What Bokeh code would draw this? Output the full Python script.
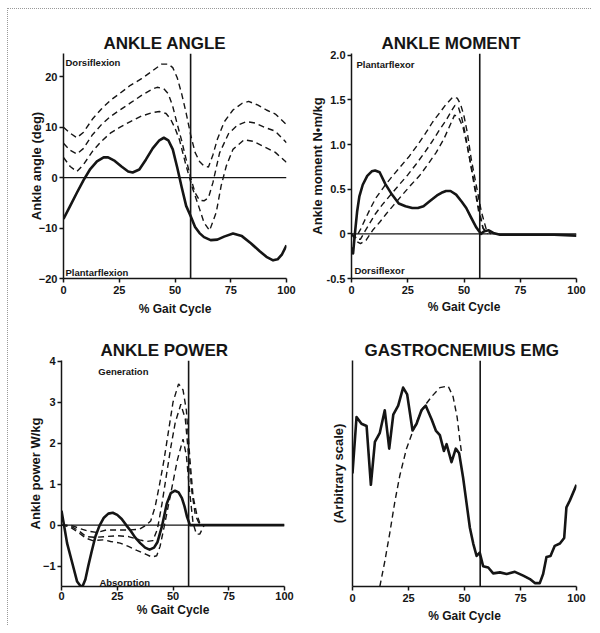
from bokeh.plotting import figure
from bokeh.models import Range1d, FixedTicker, Span, Title
from bokeh.layouts import row, column
from bokeh.core.properties import value
from bokeh.embed import file_html
from bokeh.resources import INLINE

FONT = "Liberation Sans"
INK = "#151515"

XTICKS = [0, 25, 50, 75, 100]
TOE_OFF = 57

# ---------------- ANKLE ANGLE ----------------
ANG_TICKS = [-20, -10, 0, 10, 20]
ang_x = [0, 3, 6, 9, 12, 15, 18, 20, 23, 26, 29, 31, 34, 37, 40, 43, 45, 47, 49, 51, 53,
         55, 57, 59, 61, 63, 66, 69, 72, 76, 80, 84, 88, 91, 94, 96, 98, 100]
ang_y = [-8.2, -5.6, -3.0, -0.5, 1.7, 3.2, 4.0, 4.0, 3.3, 2.2, 1.2, 1.0, 1.6, 3.6, 5.8, 7.4,
         7.9, 7.4, 5.6, 2.0, -1.9, -5.6, -7.6, -9.8, -11.0, -11.8, -12.4, -12.3, -11.7, -11.1,
         -11.6, -13.0, -14.6, -15.7, -16.4, -16.2, -15.2, -13.4]
ang_hi_x = [0, 3, 6, 9, 13, 17, 21, 25, 30, 35, 40, 44, 47, 49, 51, 53, 55, 57, 59, 61, 63,
            65, 67, 69, 72, 76, 80, 83, 87, 91, 95, 100]
ang_hi_y = [10.0, 8.8, 7.9, 9.0, 11.6, 13.6, 15.3, 16.6, 18.3, 19.6, 21.2, 22.5, 22.5, 21.8,
            19.8, 16.6, 12.8, 8.5, 5.0, 3.2, 2.3, 2.1, 4.5, 7.6, 11.0, 13.4, 14.7, 15.1, 14.4,
            13.4, 12.6, 10.5]
ang_mid_x = [0, 3, 6, 9, 13, 17, 21, 25, 30, 35, 40, 42, 45, 47, 49, 51, 53, 55, 57, 59, 61,
             63, 65, 67, 70, 74, 78, 82, 86, 90, 95, 100]
ang_mid_y = [6.8, 5.4, 4.7, 5.8, 8.5, 10.5, 12.1, 13.3, 14.8, 16.3, 17.6, 17.9, 17.6, 16.6,
             14.1, 10.6, 7.3, 3.6, 0.0, -3.0, -4.5, -4.6, -4.0, -1.0, 4.9, 8.7, 10.4, 11.1,
             10.8, 10.0, 9.2, 6.9]
ang_lo_x = [0, 3, 6, 9, 13, 17, 21, 25, 30, 35, 40, 43, 46, 48, 50, 52, 55, 58, 61, 63, 65.5,
            68.5, 70.7, 73, 76, 81, 85, 91, 95, 100]
ang_lo_y = [4.0, 2.2, 1.2, 2.6, 5.2, 7.2, 8.8, 9.9, 11.1, 12.2, 12.9, 13.1, 12.7, 11.6, 9.8,
            7.5, 2.3, -2.3, -6.2, -8.9, -10.5, -6.9, -1.6, 2.3, 5.6, 7.5, 7.2, 5.9, 5.0, 3.0]

# ---------------- ANKLE MOMENT ----------------
MOM_TICKS = [-0.5, 0, 0.5, 1.0, 1.5, 2.0]
MOM_LABELS = ["-0.5", "0", "0.5", "1.0", "1.5", "2.0"]
mom_x = [0, 0.7, 1.5, 2.5, 3.5, 5, 7, 9, 10.5, 12.5, 15, 18, 21, 24, 27, 29.5, 32, 35, 38,
         40, 42, 44, 46.5, 49, 51, 53, 55.5, 57.5, 59, 61, 63, 66, 70, 80, 90, 100]
mom_y = [-0.15, -0.22, 0.0, 0.25, 0.42, 0.55, 0.65, 0.70, 0.71, 0.69, 0.56, 0.44, 0.34, 0.31,
         0.29, 0.29, 0.31, 0.37, 0.43, 0.46, 0.48, 0.48, 0.44, 0.36, 0.29, 0.19, 0.07, 0.0,
         0.03, 0.04, 0.01, -0.01, -0.01, -0.01, -0.01, -0.02]
mom_hi_x = [0, 2, 4, 6.4, 8.5, 10.8, 14.5, 18.3, 22, 25.7, 29.5, 33, 36, 39, 42, 45, 47, 48.5,
            50, 51.5, 53.2, 55.4, 57.7, 60, 62]
mom_hi_y = [0.0, -0.04, 0.05, 0.18, 0.29, 0.40, 0.53, 0.65, 0.76, 0.87, 1.0, 1.13, 1.25, 1.35,
            1.45, 1.53, 1.52, 1.45, 1.32, 1.13, 0.84, 0.55, 0.25, 0.04, 0.0]
mom_mid_x = [0, 2, 4, 6, 7.9, 10.5, 13.8, 17.5, 21.2, 25, 28.7, 32.5, 36, 39, 42, 44.5, 46,
             47.5, 49, 50.5, 52.5, 54.5, 56.5, 58.5, 60.5]
mom_mid_y = [0.0, -0.06, -0.06, 0.03, 0.11, 0.22, 0.33, 0.44, 0.55, 0.66, 0.78, 0.91, 1.04,
             1.16, 1.27, 1.38, 1.44, 1.42, 1.30, 1.13, 0.84, 0.55, 0.25, 0.06, 0.0]
mom_lo_x = [0, 2, 4, 6.5, 9.4, 12.5, 15.3, 19, 22.7, 26.5, 30.2, 34, 37.6, 41, 43.5, 45.8,
            47.5, 49.5, 51.7, 54, 56, 58.4, 60.5]
mom_lo_y = [0.0, -0.08, -0.11, -0.07, 0.04, 0.13, 0.22, 0.33, 0.44, 0.55, 0.65, 0.78, 0.91,
            1.06, 1.20, 1.33, 1.31, 1.20, 0.95, 0.65, 0.36, 0.07, 0.0]

# ---------------- ANKLE POWER ----------------
POW_TICKS = [-1, 0, 1, 2, 3, 4]
pow_x = [0, 1, 2.5, 4.8, 7, 8.5, 9.5, 10.7, 12, 13.5, 15.2, 17, 19, 21, 23, 25, 27, 29, 31,
         33, 35.3, 37.5, 39.5, 41.5, 43, 45, 47.2, 49, 50.9, 52.5, 54, 55.2, 56.3, 57.6, 60,
         70, 80, 90, 100]
pow_y = [0.35, 0.04, -0.44, -0.92, -1.38, -1.49, -1.49, -1.33, -1.0, -0.65, -0.28, -0.02,
         0.18, 0.28, 0.30, 0.25, 0.15, 0.0, -0.14, -0.3, -0.44, -0.55, -0.6, -0.55, -0.42,
         -0.04, 0.52, 0.78, 0.84, 0.8, 0.66, 0.45, 0.2, 0.0, 0.0, 0.0, 0.0, 0.0, 0.0]
pow_hi_x = [0, 4, 8, 12, 16, 20, 25, 30, 35, 38, 40, 42, 44, 46, 48, 50, 52.5, 54.5, 56, 57.6,
            59, 60.6, 62, 64]
pow_hi_y = [0.0, 0.0, -0.08, -0.15, -0.18, -0.12, -0.12, -0.12, -0.1, 0.0, 0.1, 0.45, 1.0,
            1.6, 2.3, 3.0, 3.45, 3.3, 2.8, 1.6, 0.7, 0.28, 0.05, 0.0]
pow_mid_x = [0, 4, 8, 11, 15, 20, 25, 30, 35, 38, 41, 43, 45, 47, 49, 51, 53.5, 55.5, 57, 58.5,
             60, 62]
pow_mid_y = [0.0, -0.02, -0.15, -0.28, -0.3, -0.28, -0.26, -0.28, -0.36, -0.4, -0.38, -0.1,
             0.5, 1.2, 1.9, 2.5, 2.95, 2.6, 1.7, 0.8, 0.25, 0.0]
pow_lo_x = [0, 4, 8, 11, 14, 18.8, 22, 26.3, 30, 33.8, 38.2, 40.5, 42.7, 44.2, 46, 48, 50, 52,
            54.5, 56, 57.5, 59, 60.5, 62, 64]
pow_lo_y = [0.0, -0.05, -0.2, -0.32, -0.38, -0.36, -0.4, -0.44, -0.52, -0.62, -0.72, -0.78,
            -0.75, -0.52, -0.05, 0.5, 1.05, 1.6, 2.1, 1.7, 0.8, 0.05, -0.22, -0.22, 0.0]

# ---------------- GASTROCNEMIUS EMG ----------------
emg_x = [0, 1.8, 4, 6.3, 8.2, 10, 12.2, 14.4, 16.4, 18.2, 20.4, 22.6, 24.4, 26.8, 28.6, 30.8,
         32.7, 35.3, 37.2, 39, 40.8, 42, 44.2, 46.1, 47.6, 49.4, 50.9, 52.4, 53.9, 55.4, 56.8,
         58.3, 60.6, 62.8, 65.8, 68.8, 72.5, 76.2, 79.2, 81.4, 83.6, 85.1, 86.6, 88.4, 90.3,
         92.6, 94.5, 95.5, 97, 100]
emg_y = [0.5, 0.75, 0.72, 0.71, 0.45, 0.64, 0.68, 0.78, 0.61, 0.76, 0.8, 0.88, 0.85, 0.69,
         0.72, 0.78, 0.8, 0.74, 0.69, 0.67, 0.6, 0.63, 0.55, 0.61, 0.59, 0.48, 0.37, 0.26, 0.19,
         0.135, 0.15, 0.09, 0.084, 0.058, 0.0625, 0.055, 0.065, 0.048, 0.033, 0.015, 0.015,
         0.055, 0.13, 0.135, 0.18, 0.19, 0.215, 0.35, 0.38, 0.45]
emg_norm_x = [12.2, 14.4, 16.7, 18.9, 21.1, 24.1, 27.8, 31.5, 35.3, 39, 42.7, 44.9, 46.7,
              47.9, 48.7]
emg_norm_y = [0.0, 0.11, 0.24, 0.375, 0.49, 0.61, 0.71, 0.79, 0.84, 0.88, 0.887, 0.84, 0.75,
              0.65, 0.59]


def make_panel(title, title_offset, y_range, width, height, borders, yticks, ylabel,
               ylabel_standoff, xlabel_standoff, xtick_standoff, ylabels=None):
    left, right, top, bottom = borders
    p = figure(width=width, height=height, x_range=Range1d(0, 100),
               y_range=Range1d(*y_range), output_backend="svg", toolbar_location=None,
               min_border_left=left, min_border_right=right, min_border_top=top,
               min_border_bottom=bottom)
    p.title = Title(text=title, align="left", offset=title_offset, text_font=FONT,
                    text_font_size="17px", text_font_style="bold", text_color=INK,
                    standoff=2)
    p.outline_line_color = None
    p.grid.visible = False
    p.background_fill_color = "white"
    p.border_fill_color = "white"
    for ax in (p.xaxis[0], p.yaxis[0]):
        ax.axis_line_width = 1.5
        ax.axis_line_color = INK
        ax.major_tick_line_width = 1.5
        ax.major_tick_line_color = INK
        ax.major_tick_in = 0
        ax.major_tick_out = 4
        ax.minor_tick_line_color = None
        ax.major_label_text_font = FONT
        ax.major_label_text_font_size = "11px"
        ax.major_label_text_font_style = "bold"
        ax.major_label_text_color = INK
        ax.axis_label_text_font = FONT
        ax.axis_label_text_font_size = "12px"
        ax.axis_label_text_font_style = "bold"
        ax.axis_label_text_color = INK
    p.yaxis.axis_label_text_font_size = "13px"
    p.xaxis.ticker = FixedTicker(ticks=XTICKS)
    p.xaxis.axis_label = "% Gait Cycle"
    p.xaxis.axis_label_standoff = xlabel_standoff
    p.xaxis.major_label_standoff = xtick_standoff
    p.yaxis.ticker = FixedTicker(ticks=yticks)
    p.yaxis.major_label_standoff = 2
    if not yticks:
        p.yaxis.major_tick_out = 0
    if ylabels is not None:
        p.yaxis.major_label_overrides = dict(zip(yticks, ylabels))
    p.yaxis.axis_label = ylabel
    p.yaxis.axis_label_standoff = ylabel_standoff
    p.add_layout(Span(location=TOE_OFF, dimension="height", line_color=INK, line_width=1.6))
    return p


def band(p, xs, ys):
    p.line(xs, ys, line_color=INK, line_width=1.4, line_dash="6 4")


def curve(p, xs, ys):
    p.line(xs, ys, line_color=INK, line_width=2.6, line_join="round")


def note(p, x, y, s, size="9.5px"):
    p.text(x=[x], y=[y], text=[s], text_font=value(FONT), text_font_style="bold",
           text_font_size=size, text_color=INK, text_baseline="middle", text_align="left")


zero = dict(location=0, dimension="width", line_color=INK, line_width=1.1)

# panel 1
p1 = make_panel("ANKLE ANGLE", 40, (-20, 24.6), 291, 309, (55, 13, 44, 38), ANG_TICKS,
                "Ankle angle (deg)", -8, 5, 3)
p1.add_layout(Span(**zero))
for xs, ys in ((ang_hi_x, ang_hi_y), (ang_mid_x, ang_mid_y), (ang_lo_x, ang_lo_y)):
    band(p1, xs, ys)
curve(p1, ang_x, ang_y)
note(p1, 0.9, 22.9, "Dorsiflexion")
note(p1, 0.9, -18.8, "Plantarflexion")

# panel 2
p2 = make_panel("ANKLE MOMENT", 30, (-0.5, 2.02), 292, 309, (52, 15, 44, 35), MOM_TICKS,
                "Ankle moment N\u2022m/kg", -1, 3, 3, MOM_LABELS)
p2.add_layout(Span(**zero))
for xs, ys in ((mom_hi_x, mom_hi_y), (mom_mid_x, mom_mid_y), (mom_lo_x, mom_lo_y)):
    band(p2, xs, ys)
curve(p2, mom_x, mom_y)
note(p2, 2.2, 1.90, "Plantarflexor")
note(p2, 1.3, -0.41, "Dorsiflexor")

# panel 3
p3 = make_panel("ANKLE POWER", 39, (-1.5, 4.02), 291, 307, (53, 15, 41, 38), POW_TICKS,
                "Ankle power W/kg", -3, 0, 1)
p3.add_layout(Span(**zero))
for xs, ys in ((pow_hi_x, pow_hi_y), (pow_mid_x, pow_mid_y), (pow_lo_x, pow_lo_y)):
    band(p3, xs, ys)
curve(p3, pow_x, pow_y)
note(p3, 16.5, 3.75, "Generation")
note(p3, 17.0, -1.41, "Absorption")

# panel 4
p4 = make_panel("GASTROCNEMIUS EMG", 12, (0, 1.0), 292, 307, (53, 15, 42, 36), [],
                "(Arbitrary scale)", 7, 4, 3)
band(p4, emg_norm_x, emg_norm_y)
curve(p4, emg_x, emg_y)

layout = column(row(p1, p2), row(p3, p4),
                styles={"margin-left": "7px", "margin-top": "8px",
                        "border-left": "1px dotted #999", "border-top": "1px dotted #999"})

open("out.html", "w").write(file_html(layout, INLINE))
